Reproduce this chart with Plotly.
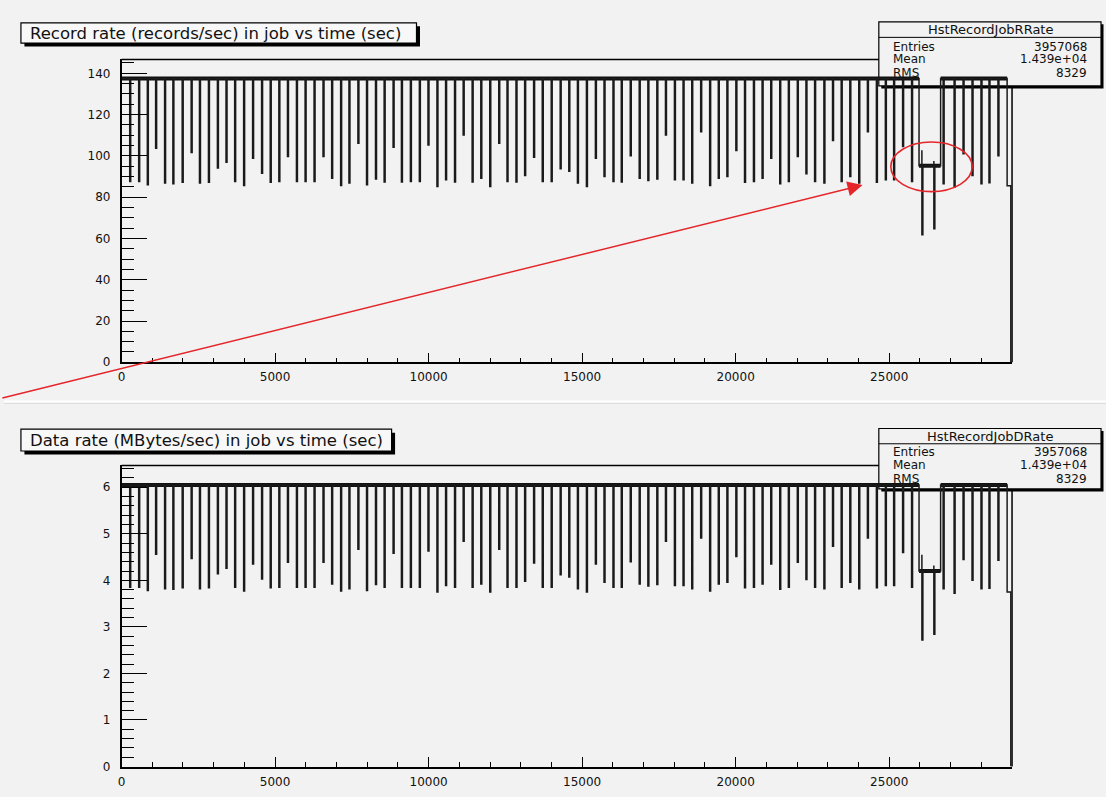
import plotly.graph_objects as go

W, H = 1106, 797

# ------------------------------------------------------------------ data
dip_times_before = [281, 573, 855, 1125, 1417, 1687, 1990, 2282, 2553, 2845,
                    3137, 3418, 3699, 3991, 4283, 4576, 4857, 5138, 5419, 5711,
                    5993, 6285, 6577, 6858, 7150, 7421, 7713, 7994, 8286, 8567,
                    8859, 9130, 9422, 9714, 9995, 10287, 10568, 10860, 11141, 11433,
                    11715, 12007, 12299, 12569, 12861, 13143, 13435, 13716, 14008, 14300,
                    14581, 14862, 15155, 15447, 15728, 16020, 16290, 16582, 16874, 17156,
                    17448, 17729, 18021, 18302, 18584, 18876, 19168, 19449, 19730, 20022,
                    20304, 20595, 20876, 21158, 21450, 21731, 22023, 22304, 22586, 22889,
                    23170, 23452, 23733, 24024, 24306, 24598, 24890, 25160, 25452, 25744]
rate_dips_before = [87.6, 87.6, 86.0, 103.7, 86.8, 86.5, 87.2, 101.6, 86.8, 87.2,
                    94.1, 96.9, 87.6, 85.6, 98.9, 91.6, 87.2, 87.6, 99.7, 87.6,
                    87.6, 87.6, 99.7, 89.2, 85.6, 86.8, 106.1, 86.0, 88.8, 87.4,
                    104.2, 87.4, 87.6, 87.6, 105.3, 85.2, 88.4, 87.4, 110.1, 87.4,
                    89.2, 85.2, 106.1, 87.6, 87.4, 90.5, 99.3, 87.6, 87.6, 93.7,
                    92.5, 86.8, 85.2, 98.9, 90.0, 87.6, 87.4, 100.0, 89.2, 88.1,
                    88.8, 110.1, 88.4, 88.4, 86.8, 111.7, 85.6, 89.2, 90.0, 102.6,
                    87.2, 87.6, 89.2, 98.9, 86.5, 87.6, 99.7, 91.3, 87.6, 86.8,
                    107.4, 87.6, 90.0, 86.8, 111.7, 87.2, 88.4, 88.4, 104.5, 87.6]
drate_dips_before = [3.85, 3.85, 3.78, 4.56, 3.82, 3.81, 3.84, 4.47, 3.82, 3.84,
                     4.14, 4.26, 3.85, 3.77, 4.35, 4.03, 3.84, 3.85, 4.39, 3.85,
                     3.85, 3.85, 4.39, 3.92, 3.77, 3.82, 4.67, 3.78, 3.91, 3.85,
                     4.58, 3.85, 3.85, 3.85, 4.63, 3.75, 3.89, 3.85, 4.84, 3.85,
                     3.92, 3.75, 4.67, 3.85, 3.85, 3.98, 4.37, 3.85, 3.85, 4.12,
                     4.07, 3.82, 3.75, 4.35, 3.96, 3.85, 3.85, 4.40, 3.92, 3.88,
                     3.91, 4.84, 3.89, 3.89, 3.82, 4.91, 3.77, 3.92, 3.96, 4.51,
                     3.84, 3.85, 3.92, 4.35, 3.81, 3.85, 4.39, 4.02, 3.85, 3.82,
                     4.73, 3.85, 3.96, 3.82, 4.91, 3.84, 3.89, 3.89, 4.60, 3.85]

dip_times_after = [26772, 27129, 27421, 27713, 28005, 28265, 28557]
rate_dips_after = [86.5, 84.9, 101.0, 90.5, 86.5, 87.0, 100.0]
drate_dips_after = [3.82, 3.72, 4.45, 4.00, 3.82, 3.83, 4.43]

rate_baseline = 137.5
drate_baseline = 6.05

anomaly_start, anomaly_end = 25971, 26674
rate_plateau = 95.2
drate_plateau = 4.20
anomaly_spike_times = [26080, 26470]
rate_spike_low = [61.8, 64.7]
rate_spike_high = [102.7, 97.5]
drate_spike_low = [2.72, 2.84]
drate_spike_high = [4.55, 4.32]

last_bin = [28840, 28960]
rate_last = 85.5
drate_last = 3.75

x_tick_vals = [0, 5000, 10000, 15000, 20000, 25000]
rate_tick_vals = [0, 20, 40, 60, 80, 100, 120, 140]
drate_tick_vals = [0, 1, 2, 3, 4, 5, 6]

x_range = [0, 29000]
rate_range = [0, 146.7]
drate_range = [0, 6.47]

# ------------------------------------------------------------------ helpers
BG = "#f2f2f2"
RED = "#e4262b"
FONT = "DejaVu Sans, Liberation Sans, sans-serif"


def px(x):
    return x / W


def py(y):
    return 1 - y / H


def outline(base, dt_b, d_b, plateau, sp_lo, sp_hi, dt_a, d_a, last_val, w=16):
    xs, ys = [0], [base]
    for t, d in zip(dt_b, d_b):
        xs += [t - w, t - w, t + w, t + w]
        ys += [base, d, d, base]
    xs += [anomaly_start, anomaly_start]
    ys += [base, plateau]
    for t, lo, hi in zip(anomaly_spike_times, sp_lo, sp_hi):
        xs += [t - w, t - w, t - w, t + w, t + w]
        ys += [plateau, hi, lo, lo, plateau]
    xs += [anomaly_end, anomaly_end]
    ys += [plateau, base]
    for t, d in zip(dt_a, d_a):
        xs += [t - w, t - w, t + w, t + w]
        ys += [base, d, d, base]
    xs += [last_bin[0], last_bin[0], last_bin[1], last_bin[1]]
    ys += [base, last_val, last_val, 0]
    return xs, ys


def band(base, plateau):
    xs = [0, anomaly_start, None, anomaly_end, last_bin[0], None,
          anomaly_start, anomaly_end]
    ys = [base, base, None, base, base, None, plateau, plateau]
    return xs, ys


fig = go.Figure()

panels = [
    ("x", "y", rate_baseline, rate_dips_before, rate_plateau, rate_spike_low,
     rate_spike_high, rate_dips_after, rate_last),
    ("x2", "y2", drate_baseline, drate_dips_before, drate_plateau, drate_spike_low,
     drate_spike_high, drate_dips_after, drate_last),
]
for xa, ya, base, db, plat, slo, shi, da, lv in panels:
    bx, by = band(base, plat)
    fig.add_trace(go.Scatter(x=bx, y=by, xaxis=xa, yaxis=ya, mode="lines",
                             line=dict(color="#111111", width=4),
                             hoverinfo="skip", showlegend=False))
    ox, oy = outline(base, dip_times_before, db, plat, slo, shi,
                     dip_times_after, da, lv)
    fig.add_trace(go.Scatter(x=ox, y=oy, xaxis=xa, yaxis=ya, mode="lines",
                             line=dict(color="#1a1a1a", width=1.5),
                             hoverinfo="skip", showlegend=False))

# ------------------------------------------------------------------ axes
XD = [px(118), px(1011.7)]
TOP_D = [py(365.5), py(60)]
BOT_D = [py(773.3), py(469.5)]

axis_common = dict(showgrid=False, zeroline=False, showline=True, linecolor="black",
                   linewidth=1.5, ticks="inside", tickcolor="black", tickwidth=1.3,
                   tickfont=dict(family=FONT, size=12, color="#111111"))

for name, anchor in (("xaxis", "y"), ("xaxis2", "y2")):
    fig.layout[name] = dict(domain=XD, anchor=anchor, range=x_range,
                            tickmode="array", tickvals=x_tick_vals,
                            ticktext=[str(v) for v in x_tick_vals], ticklen=10,
                            ticklabelstandoff=3,
                            minor=dict(dtick=1000, tick0=0, ticklen=5, ticks="inside",
                                       tickcolor="black", tickwidth=1.2),
                            **axis_common)

fig.layout["yaxis"] = dict(domain=TOP_D, anchor="x", range=rate_range,
                           tickmode="array", tickvals=rate_tick_vals,
                           ticktext=[str(v) for v in rate_tick_vals], ticklen=26,
                           ticklabelstandoff=7,
                           minor=dict(dtick=5, tick0=0, ticklen=13, ticks="inside",
                                      tickcolor="black", tickwidth=1.2),
                           **axis_common)
fig.layout["yaxis2"] = dict(domain=BOT_D, anchor="x2", range=drate_range,
                            tickmode="array", tickvals=drate_tick_vals,
                            ticktext=[str(v) for v in drate_tick_vals], ticklen=26,
                            ticklabelstandoff=7,
                            minor=dict(dtick=0.2, tick0=0, ticklen=13, ticks="inside",
                                       tickcolor="black", tickwidth=1.2),
                            **axis_common)

shapes = []
annotations = []

# pad separator
shapes.append(dict(type="line", xref="paper", yref="paper", x0=0, x1=1,
                   y0=py(405), y1=py(405), line=dict(color="#ffffff", width=2),
                   layer="below"))
shapes.append(dict(type="line", xref="paper", yref="paper", x0=0, x1=1,
                   y0=py(407), y1=py(407), line=dict(color="#dcdcdc", width=1),
                   layer="below"))

# frame top / right lines (hidden under the stats boxes)
for xr, yr in (("x domain", "y domain"), ("x2 domain", "y2 domain")):
    shapes.append(dict(type="line", xref=xr, yref=yr, x0=0, x1=1, y0=1, y1=1,
                       line=dict(color="black", width=1.5), layer="below"))
    shapes.append(dict(type="line", xref=xr, yref=yr, x0=1, x1=1, y0=0, y1=1,
                       line=dict(color="black", width=1.5), layer="below"))


def box(x0, y0, x1, y1, fill, shadow=3.5):
    shapes.append(dict(type="rect", xref="paper", yref="paper",
                       x0=px(x0 + shadow), x1=px(x1 + shadow),
                       y0=py(y1 + shadow), y1=py(y0 + shadow),
                       line=dict(width=0), fillcolor="black", layer="below"))
    shapes.append(dict(type="rect", xref="paper", yref="paper",
                       x0=px(x0), x1=px(x1), y0=py(y1), y1=py(y0),
                       line=dict(color="black", width=1.2), fillcolor=fill,
                       layer="below"))


def text(x, y, s, size, xanchor="left"):
    annotations.append(dict(xref="paper", yref="paper", x=px(x), y=py(y), text=s,
                            showarrow=False, xanchor=xanchor, yanchor="middle",
                            borderpad=0,
                            font=dict(family=FONT, size=size, color="#111111")))


# titles
box(17, 23, 414, 43.5, "#f8f8f8")
text(25, 33.5, "Record rate (records/sec) in job vs time (sec)", 16.5)
box(17, 433, 389, 455, "#f8f8f8")
text(25, 444, "Data rate (MBytes/sec) in job vs time (sec)", 16.5)

# statistics boxes
stats = [
    (22, 37.7, 86.7, "HstRecordJobRRate", [47.3, 60, 73.3]),
    (432.3, 447.7, 493.3, "HstRecordJobDRate", [456, 469, 483]),
]
for top, sep, bot, name, rows in stats:
    box(878, top, 1101, bot, BG, shadow=2.5)
    shapes.append(dict(type="line", xref="paper", yref="paper", x0=px(878),
                       x1=px(1101), y0=py(sep), y1=py(sep),
                       line=dict(color="black", width=1), layer="below"))
    text(990, (top + sep) / 2, name, 13, "center")
    for (lab, val), yy in zip([("Entries", "3957068"), ("Mean", "1.439e+04"),
                               ("RMS", "8329")], rows):
        text(891, yy, lab, 12, "left")
        text(1088, yy, val, 12, "right")

# red highlight: ellipse + arrow
shapes.append(dict(type="circle", xref="x", yref="y", x0=25052, x1=27703,
                   y0=82.7, y1=106.7, line=dict(color=RED, width=1.6), layer="above"))
annotations.append(dict(xref="paper", yref="paper", x=px(861.7), y=py(186.7),
                        ax=-861.7, ay=213.3, axref="pixel", ayref="pixel",
                        text="", showarrow=True, arrowhead=2, arrowsize=2,
                        arrowwidth=1.5, arrowcolor=RED))

fig.update_layout(width=W, height=H, autosize=False,
                  margin=dict(l=0, r=0, t=0, b=0, pad=0),
                  paper_bgcolor=BG, plot_bgcolor=BG,
                  shapes=shapes, annotations=annotations, showlegend=False)

fig.write_html("out.html")
